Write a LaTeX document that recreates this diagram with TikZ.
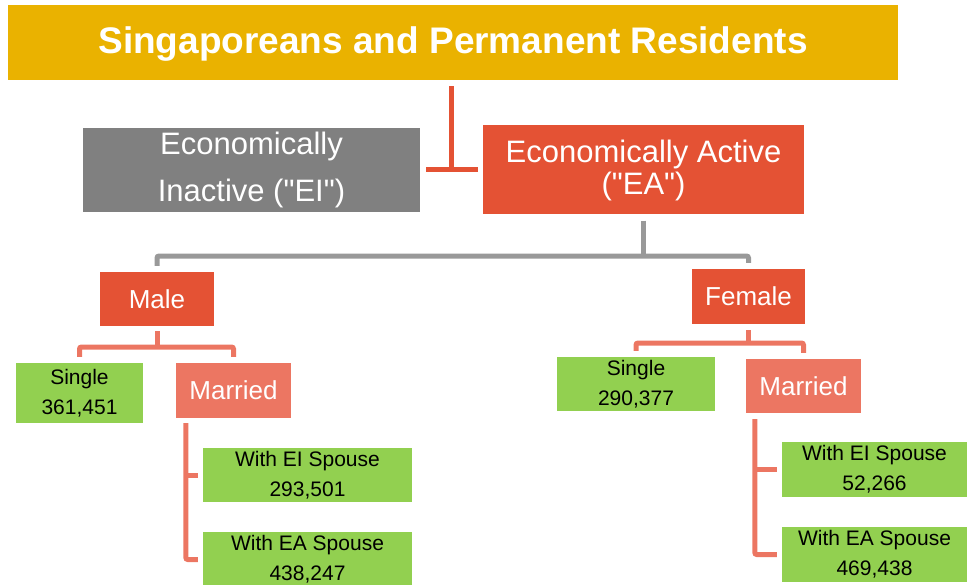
\documentclass[tikz,border=0pt]{standalone}
\usepackage{fontspec}
\setmainfont{Liberation Sans}[Ligatures=TeXOff]
\usetikzlibrary{calc}
\definecolor{gold}{RGB}{234,178,0}
\definecolor{redc}{RGB}{228,82,52}
\definecolor{salmon}{RGB}{236,118,98}
\definecolor{greybox}{RGB}{128,128,128}
\definecolor{greyline}{RGB}{153,153,153}
\definecolor{greenc}{RGB}{146,208,80}
\begin{document}
\begin{tikzpicture}[x=1pt,y=-1pt,
  box/.style={inner sep=0pt, align=center, text=white},
  titlebox/.style={box, fill=gold, font=\fontsize{37}{40}\selectfont\bfseries},
  bigbox/.style={box, font=\fontsize{31}{32}\selectfont},
  midbox/.style={box, font=\fontsize{26}{30}\selectfont},
  greenbox/.style={box, fill=greenc, text=black, font=\fontsize{21}{30}\selectfont},
  redline/.style={draw=redc, line width=5pt},
  greyconn/.style={draw=greyline, line width=5pt, rounded corners=2pt},
  salmonline/.style={draw=salmon, line width=5pt, rounded corners=2pt}]
\useasboundingbox (0,0) rectangle (968,585);

% boxes
\node[titlebox, minimum width=890pt, minimum height=75pt, text depth=0pt] (banner) at (453,42.5) {};
\node[titlebox, fill=none, anchor=base] (title) at ([yshift=-11pt]banner.center) {Singaporeans and Permanent Residents};
\node[bigbox, fill=greybox, minimum width=337pt, minimum height=84pt, font=\fontsize{31}{47}\selectfont] (EI) at (251.5,170) {Economically\\Inactive ("EI")};
\node[bigbox, fill=redc, minimum width=321pt, minimum height=89pt] (EA) at (643.5,170) {Economically Active\\("EA")};
\node[midbox, fill=redc, minimum width=114pt, minimum height=54pt] (Male) at (157,299) {Male};
\node[midbox, fill=redc, minimum width=113pt, minimum height=55pt] (Female) at (748.5,296.5) {Female};
\node[greenbox, minimum width=127pt, minimum height=60pt] (SM) at (79.5,393) {Single\\361,451};
\node[midbox, fill=salmon, minimum width=115pt, minimum height=55pt] (MM) at (233.5,390.5) {Married};
\node[greenbox, minimum width=158pt, minimum height=54pt] (SF) at (636,384) {Single\\290,377};
\node[midbox, fill=salmon, minimum width=115pt, minimum height=54pt] (MF) at (803.5,386) {Married};
\node[greenbox, minimum width=209pt, minimum height=54pt] (MEI) at (307.5,475) {With EI Spouse\\293,501};
\node[greenbox, minimum width=209pt, minimum height=55pt] (MEA) at (307.5,559.5) {With EA Spouse\\438,247};
\node[greenbox, minimum width=185pt, minimum height=55pt] (FEI) at (874.5,469.5) {With EI Spouse\\52,266};
\node[greenbox, minimum width=185pt, minimum height=55pt] (FEA) at (874.5,554.5) {With EA Spouse\\469,438};

% banner -> EI / EA
\coordinate (j0) at ($(EI.east)!0.5!(EA.west)$);
\draw[redline, shorten <=6pt] (banner.south -| j0) -- (j0);
\draw[redline, shorten <=6pt, shorten >=5pt] (EI.east) -- (EA.west);

% EA -> Male / Female
\coordinate (gy) at (0,256);
\draw[greyconn, shorten <=6pt] (EA.south) -- (EA.south |- gy);
\draw[greyconn, shorten <=6pt, shorten >=6pt] (Male.north) -- (Male.north |- gy) -- (Female.north |- gy) -- (Female.north);

% Male -> Single / Married
\coordinate (my) at (0,347);
\draw[salmonline, shorten <=5pt] (Male.south) -- (Male.south |- my);
\draw[salmonline, shorten <=6pt, shorten >=6pt] (SM.north) -- (SM.north |- my) -- (MM.north |- my) -- (MM.north);

% Female -> Single / Married
\coordinate (fy) at (0,343);
\draw[salmonline, shorten <=6pt] (Female.south) -- (Female.south |- fy);
\draw[salmonline, shorten <=6pt, shorten >=6pt] (SF.north) -- (SF.north |- fy) -- (MF.north |- fy) -- (MF.north);

% Married (male) -> spouses
\coordinate (mv) at ([xshift=10pt]MM.south west);
\draw[salmonline, shorten <=5pt, shorten >=5pt] (mv) -- (mv |- MEA.west) -- (MEA.west);
\draw[salmonline, shorten >=5pt] (mv |- MEI.west) -- (MEI.west);

% Married (female) -> spouses
\coordinate (fv) at ([xshift=9pt]MF.south west);
\draw[salmonline, shorten <=6pt, shorten >=5pt] (fv) -- (fv |- FEA.west) -- (FEA.west);
\draw[salmonline, shorten >=5pt] (fv |- FEI.west) -- (FEI.west);
\end{tikzpicture}
\end{document}
